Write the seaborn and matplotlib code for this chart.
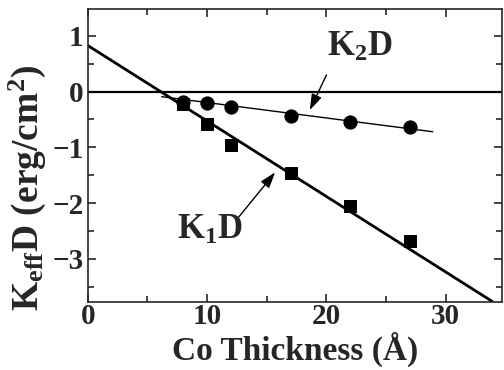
import numpy as np
import pandas as pd
import matplotlib
matplotlib.use("Agg")
import matplotlib.pyplot as plt
from matplotlib.ticker import MultipleLocator
import seaborn as sns

# Co thickness (Angstrom) and measured anisotropies
thickness = [8, 10, 12, 17, 22, 27]
k1d = [-0.22, -0.59, -0.96, -1.47, -2.05, -2.69]
k2d = [-0.18, -0.21, -0.27, -0.43, -0.54, -0.64]

# linear fits (end points)
fit1_x = [0, 33.9]
fit1_y = [0.83, -3.77]
fit2_x = [6.2, 28.9]
fit2_y = [-0.09, -0.72]

sns.set_style("ticks")
plt.rcParams['font.family'] = ['Liberation Serif', 'DejaVu Serif']
plt.rcParams['font.weight'] = 'bold'
plt.rcParams['mathtext.fontset'] = 'custom'
plt.rcParams['mathtext.rm'] = 'Liberation Serif:bold'
plt.rcParams['mathtext.it'] = 'Liberation Serif:bold'
plt.rcParams['mathtext.bf'] = 'Liberation Serif:bold'

fig = plt.figure(figsize=(5.04, 3.70), dpi=100)
ax = fig.add_axes([0.174, 0.185, 0.822, 0.79])

ax.axhline(0, color='black', lw=1.6, zorder=1)
sns.lineplot(x=fit1_x, y=fit1_y, color='black', lw=2.0, ax=ax)
sns.lineplot(x=fit2_x, y=fit2_y, color='black', lw=1.0, ax=ax)

df = pd.DataFrame({'t': thickness, 'k1': k1d, 'k2': k2d})
sns.scatterplot(data=df, x='t', y='k1', marker='s', s=75, color='black',
                edgecolor='black', ax=ax, zorder=3)
sns.scatterplot(data=df, x='t', y='k2', marker='o', s=90, color='black',
                edgecolor='black', ax=ax, zorder=3)

arrow = dict(arrowstyle='-|>,head_length=0.6,head_width=0.2', color='black',
             lw=1.0, mutation_scale=16, shrinkA=0, shrinkB=0)
ax.text(22.8, 0.80, 'K$_2$D', ha='center', va='center', fontsize=25, fontweight='bold')
ax.annotate('', xy=(18.6, -0.33), xytext=(20.0, 0.30), arrowprops=arrow)
ax.text(10.2, -2.50, 'K$_1$D', ha='center', va='center', fontsize=25, fontweight='bold')
ax.annotate('', xy=(15.7, -1.45), xytext=(12.66, -2.25), arrowprops=arrow)

ax.set_xlim(0, 34.7)
ax.set_ylim(-3.77, 1.48)
ax.xaxis.set_major_locator(MultipleLocator(10))
ax.xaxis.set_minor_locator(MultipleLocator(5))
ax.yaxis.set_major_locator(MultipleLocator(1))
ax.yaxis.set_minor_locator(MultipleLocator(0.5))
ax.tick_params(which='both', direction='in', top=True, right=True,
               width=1.2, labelsize=21, pad=3)
ax.tick_params(axis='x', which='both', pad=1)
ax.tick_params(which='major', length=6)
ax.tick_params(which='minor', length=4)
for s in ax.spines.values():
    s.set_linewidth(1.2)
    s.set_visible(True)

ax.set_xlabel('Co Thickness (Å)', fontsize=24, fontweight='bold', labelpad=1)
ax.set_ylabel('K$_{\\rm eff}$D (erg/cm$^2$)', fontsize=27, fontweight='bold')
ax.yaxis.set_label_coords(-0.095, 0.39)

fig.savefig('out.png', dpi=100)
